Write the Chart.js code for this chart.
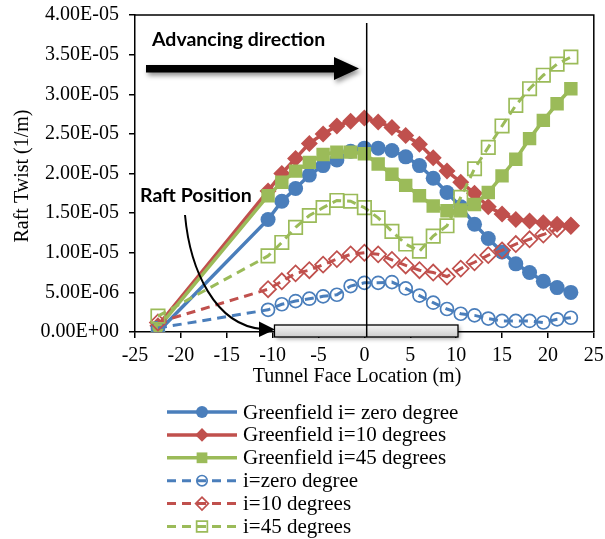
<!DOCTYPE html>
<html>
<head>
<meta charset="utf-8">
<title>Raft Twist</title>
<script src="https://cdn.jsdelivr.net/npm/chart.js@4.4.1/dist/chart.umd.min.js"></script>
<style>
  html, body { margin:0; padding:0; background:#fff; }
  #wrap { width:605px; height:539px; position:relative; }
</style>
</head>
<body>
<div id="wrap"><canvas id="chart"></canvas></div>
<script>
// tunnel face positions (m)
const xPos = [-22.5, -10.5, -9, -7.5, -6, -4.5, -3, -1.5, 0, 1.5, 3, 4.5, 6, 7.5, 9, 10.5, 12, 13.5, 15, 16.5, 18, 19.5, 21, 22.5];

// raft twist, in units of 1E-05 1/m
const SCALE = 1e-5;
const gf0  = [0.00, 1.42, 1.65, 1.81, 1.98, 2.10, 2.17, 2.28, 2.32, 2.32, 2.29, 2.21, 2.10, 1.94, 1.76, 1.58, 1.36, 1.18, 1.01, 0.86, 0.75, 0.64, 0.56, 0.50];
const gf10 = [0.08, 1.78, 2.00, 2.19, 2.38, 2.50, 2.60, 2.66, 2.70, 2.65, 2.58, 2.48, 2.37, 2.20, 2.03, 1.89, 1.75, 1.58, 1.49, 1.42, 1.40, 1.38, 1.36, 1.34];
const gf45 = [0.05, 1.72, 1.89, 2.03, 2.14, 2.24, 2.27, 2.27, 2.25, 2.12, 1.99, 1.85, 1.72, 1.59, 1.53, 1.53, 1.61, 1.76, 1.97, 2.18, 2.44, 2.67, 2.88, 3.07];
const i0   = [0.05, 0.28, 0.35, 0.39, 0.42, 0.45, 0.47, 0.58, 0.62, 0.62, 0.63, 0.55, 0.46, 0.37, 0.29, 0.23, 0.21, 0.17, 0.14, 0.14, 0.14, 0.12, 0.16, 0.18];
const i10  = [0.12, 0.54, 0.64, 0.74, 0.78, 0.85, 0.92, 0.98, 1.00, 0.98, 0.91, 0.84, 0.78, 0.75, 0.70, 0.80, 0.88, 0.97, 1.03, 1.11, 1.17, 1.23, 1.30, 1.34];
const i45  = [0.20, 0.96, 1.13, 1.32, 1.47, 1.57, 1.66, 1.65, 1.57, 1.44, 1.27, 1.11, 1.02, 1.21, 1.34, 1.70, 2.06, 2.33, 2.60, 2.86, 3.07, 3.24, 3.38, 3.47];

const seriesNames = [
  'Greenfield i= zero degree', 'Greenfield i=10 degrees', 'Greenfield i=45 degrees',
  'i=zero degree', 'i=10 degrees', 'i=45 degrees'
];

const yTickValues = [0, 0.5e-5, 1e-5, 1.5e-5, 2e-5, 2.5e-5, 3e-5, 3.5e-5, 4e-5];
const yTickLabels = ['0.00E+00', '5.00E-06', '1.00E-05', '1.50E-05', '2.00E-05', '2.50E-05', '3.00E-05', '3.50E-05', '4.00E-05'];

// raft extent and tunnel face marker (m)
const raftStart = -9.8, raftEnd = 10.2, faceLine = 0.25;

const BLUE = '#4a7ebb', RED = '#c0504d', GREEN = '#9bbb59';
const SERIF = '"Liberation Serif", "Times New Roman", serif';
const SANS = 'Lato, "Open Sans", sans-serif';

function pts(vals) { return xPos.map((x, i) => ({ x, y: vals[i] * SCALE })); }

function solid(label, vals, color, style, r) {
  return { label, data: pts(vals), borderColor: color, backgroundColor: color, borderWidth: 3.5,
    pointStyle: style, pointRadius: r, pointBackgroundColor: color, pointBorderColor: color,
    pointBorderWidth: 0, showLine: true };
}
function dashed(label, vals, color, style, r) {
  return { label, data: pts(vals), borderColor: color, backgroundColor: 'rgba(0,0,0,0)', borderWidth: 3,
    borderDash: [9, 6], pointStyle: style, pointRadius: r, pointBackgroundColor: 'rgba(0,0,0,0)',
    pointBorderColor: color, pointBorderWidth: 1.7, showLine: true };
}

const datasets = [
  solid(seriesNames[0], gf0, BLUE, 'circle', 7.5),
  solid(seriesNames[1], gf10, RED, 'rectRot', 8.5),
  solid(seriesNames[2], gf45, GREEN, 'rect', 9.5),
  dashed(seriesNames[3], i0, BLUE, 'circle', 6.5),
  dashed(seriesNames[4], i10, RED, 'rectRot', 8),
  dashed(seriesNames[5], i45, GREEN, 'rect', 9.5)
];
// later series on top, like the spreadsheet
datasets.forEach((d, i) => { d.order = datasets.length - i; });

const extras = {
  id: 'extras',
  afterDraw(chart) {
    const ctx = chart.ctx, a = chart.chartArea;
    const xs = chart.scales.x;
    ctx.save();

    // top / right frame
    ctx.strokeStyle = '#000'; ctx.lineWidth = 1.5;
    ctx.beginPath();
    ctx.moveTo(a.left, a.top); ctx.lineTo(a.right, a.top); ctx.lineTo(a.right, a.bottom);
    ctx.stroke();

    // tunnel face line
    const fx = xs.getPixelForValue(faceLine);
    ctx.beginPath(); ctx.moveTo(fx, a.top + 8); ctx.lineTo(fx, a.bottom + 5); ctx.stroke();

    // advancing direction arrow
    ctx.save();
    ctx.shadowColor = 'rgba(0,0,0,0.45)'; ctx.shadowBlur = 5; ctx.shadowOffsetX = 2; ctx.shadowOffsetY = 3;
    ctx.fillStyle = '#000';
    ctx.beginPath();
    ctx.moveTo(146, 65); ctx.lineTo(334, 65); ctx.lineTo(334, 57); ctx.lineTo(359, 68.5);
    ctx.lineTo(334, 80); ctx.lineTo(334, 72.5); ctx.lineTo(146, 72.5); ctx.closePath();
    ctx.fill();
    ctx.restore();

    ctx.fillStyle = '#000';
    ctx.font = 'bold 19.5px ' + SANS;
    ctx.textAlign = 'left'; ctx.textBaseline = 'alphabetic';
    ctx.fillText('Advancing direction', 152, 46);
    ctx.fillText('Raft Position', 140, 202);

    // raft bar
    const rx0 = xs.getPixelForValue(raftStart), rx1 = xs.getPixelForValue(raftEnd);
    ctx.save();
    ctx.shadowColor = 'rgba(0,0,0,0.35)'; ctx.shadowBlur = 4; ctx.shadowOffsetX = 2; ctx.shadowOffsetY = 2;
    const g = ctx.createLinearGradient(0, 325, 0, 337);
    g.addColorStop(0, '#f4f4f4'); g.addColorStop(1, '#cbcbcb');
    ctx.fillStyle = g;
    ctx.fillRect(rx0, 325, rx1 - rx0, 12);
    ctx.restore();
    ctx.strokeStyle = '#000'; ctx.lineWidth = 1.3;
    ctx.strokeRect(rx0, 325, rx1 - rx0, 12);
    ctx.lineWidth = 1.5;
    ctx.beginPath(); ctx.moveTo(fx, 325); ctx.lineTo(fx, 337); ctx.stroke();

    // curved arrow to raft
    ctx.lineWidth = 2;
    ctx.beginPath();
    ctx.moveTo(185, 215);
    ctx.bezierCurveTo(190, 270, 215, 325, 262, 329);
    ctx.stroke();
    ctx.beginPath();
    ctx.moveTo(259, 321.5); ctx.lineTo(275, 329.5); ctx.lineTo(259, 337); ctx.closePath();
    ctx.fill();

    // axis titles
    ctx.font = '20px ' + SERIF;
    ctx.textAlign = 'center'; ctx.textBaseline = 'middle';
    ctx.fillText('Tunnel Face Location (m)', 357, 377);
    ctx.save();
    ctx.translate(23, 176); ctx.rotate(-Math.PI / 2);
    ctx.fillText('Raft Twist (1/m)', 0, 0);
    ctx.restore();

    // legend: line + marker + name
    ctx.font = '21px ' + SERIF;
    ctx.textAlign = 'left';
    chart.data.datasets.forEach((d, i) => {
      const y = 412 + 22.9 * i;
      ctx.save();
      ctx.strokeStyle = d.borderColor; ctx.lineWidth = d.borderWidth;
      ctx.setLineDash(d.borderDash || []);
      ctx.beginPath(); ctx.moveTo(167, y); ctx.lineTo(237, y); ctx.stroke();
      ctx.setLineDash([]);
      ctx.fillStyle = d.pointBackgroundColor; ctx.strokeStyle = d.pointBorderColor;
      ctx.lineWidth = d.pointBorderWidth;
      Chart.helpers.drawPoint(ctx, { pointStyle: d.pointStyle, radius: d.pointRadius * 0.8,
        borderWidth: d.pointBorderWidth, rotation: 0 }, 202, y);
      ctx.restore();
      ctx.fillStyle = '#000';
      ctx.fillText(d.label, 243, y + 1);
    });
    ctx.restore();
  }
};

new Chart(document.getElementById('chart'), {
  type: 'scatter',
  data: { datasets },
  options: {
    responsive: true, maintainAspectRatio: false, animation: false, devicePixelRatio: 1,
    layout: { padding: { left: 0, right: 9, top: 15, bottom: 151 } },
    plugins: { legend: { display: false }, tooltip: { enabled: false } },
    scales: {
      x: {
        type: 'linear', min: -25, max: 25,
        ticks: { stepSize: 5, color: '#000', font: { family: SERIF, size: 20 }, padding: 6, maxRotation: 0 },
        grid: { drawOnChartArea: false, color: '#000', tickLength: 6, lineWidth: 1.5 },
        border: { color: '#000', width: 1.5 },
        afterFit: s => { s.height = 56; s.paddingLeft = 0; s.paddingRight = 0; }
      },
      y: {
        min: 0, max: 4e-5,
        afterBuildTicks: s => { s.ticks = yTickValues.map(v => ({ value: v })); },
        ticks: { color: '#000', font: { family: SERIF, size: 20 }, padding: 10,
          callback: (v, i) => yTickLabels[i] },
        grid: { drawOnChartArea: false, color: '#000', tickLength: 6, lineWidth: 1.5 },
        border: { color: '#000', width: 1.5 },
        afterFit: s => { s.width = 135; s.paddingTop = 0; s.paddingBottom = 0; }
      }
    }
  },
  plugins: [extras]
});
</script>
</body>
</html>
